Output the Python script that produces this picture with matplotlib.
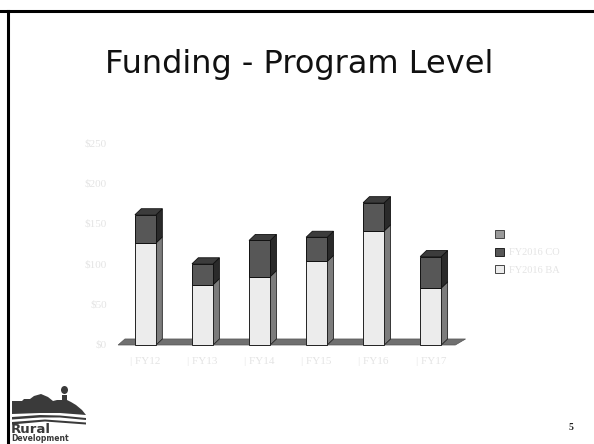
import matplotlib
matplotlib.use("Agg")
import matplotlib.pyplot as plt
from matplotlib.patches import Polygon, Patch, Ellipse
from matplotlib.lines import Line2D

# ---- data ----
categories = ["FY12", "FY13", "FY14", "FY15", "FY16", "FY17"]
base_values = [127, 75, 85, 104, 142, 71]      # light segment
top_values = [35, 26, 45, 30, 35, 39]          # dark segment
y_ticks = [0, 50, 100, 150, 200, 250]
y_tick_labels = ["$0", "$50", "$100", "$150", "$200", "$250"]
legend_labels = ["", "FY2016 CO", "FY2016 BA"]
title = "Funding - Program Level"

W, H = 594, 444
fig = plt.figure(figsize=(W / 100, H / 100), dpi=100)
fig.patch.set_facecolor("white")

def fx(px):
    return px / W

def fy(py):
    return 1 - py / H

# slide frame
fig.add_artist(Line2D([0, 1], [fy(11.5), fy(11.5)], color="black", lw=2.2, transform=fig.transFigure))
fig.add_artist(Line2D([fx(8), fx(8)], [0, fy(11.5)], color="black", lw=2.2, transform=fig.transFigure))

fig.text(fx(299), fy(73), title, ha="center", va="baseline", fontsize=23,
         family="DejaVu Sans", color="#111111")

ax = fig.add_axes([fx(120), fy(345), fx(465) - fx(120), fy(144) - fy(345)])
x0 = [i for i in range(len(categories))]
ax.set_xlim(-0.447, 5.6)
ax.set_ylim(0, 250)
ax.axis("off")

w = 0.37
dx = 0.11
dy = 7.5

floor = Polygon([(-0.48, 0), (5.43, 0), (5.43 + 0.18, dy), (-0.48 + 0.12, dy)],
                closed=True, facecolor="#707070", edgecolor="#555555", lw=0.5,
                clip_on=False, zorder=1)
ax.add_patch(floor)

for i, (b, t) in enumerate(zip(base_values, top_values)):
    xr = x0[i] + w / 2
    tot = b + t
    ax.add_patch(Polygon([(xr, 0), (xr + dx, dy), (xr + dx, b + dy), (xr, b)], closed=True,
                         facecolor="#7c7c7c", edgecolor="#222222", lw=0.6, clip_on=False, zorder=2))
    ax.add_patch(Polygon([(xr, b), (xr + dx, b + dy), (xr + dx, tot + dy), (xr, tot)], closed=True,
                         facecolor="#2a2a2a", edgecolor="#111111", lw=0.6, clip_on=False, zorder=2))
    xl = x0[i] - w / 2
    ax.add_patch(Polygon([(xl, tot), (xr, tot), (xr + dx, tot + dy), (xl + dx, tot + dy)], closed=True,
                         facecolor="#3c3c3c", edgecolor="#111111", lw=0.6, clip_on=False, zorder=2))

ax.bar(x0, base_values, width=w, color="#ececec", edgecolor="#222222", lw=0.7, zorder=3, clip_on=False)
ax.bar(x0, top_values, bottom=base_values, width=w, color="#575757", edgecolor="#111111", lw=0.7,
       zorder=3, clip_on=False)

for v, lab in zip(y_ticks, y_tick_labels):
    ax.text(-0.68, v, lab, ha="right", va="center", fontsize=8, family="Liberation Serif",
            color="#e4e4e4", clip_on=False)
for i, lab in enumerate(categories):
    ax.text(x0[i], -21, "| " + lab, ha="center", va="center", fontsize=8, family="Liberation Serif",
            color="#e4e4e4", clip_on=False)

handles = [Patch(facecolor="#9a9a9a", edgecolor="#444444", lw=0.7),
           Patch(facecolor="#575757", edgecolor="#222222", lw=0.7),
           Patch(facecolor="#ececec", edgecolor="#444444", lw=0.7)]
leg = fig.legend(handles, legend_labels, loc="upper left", bbox_to_anchor=(fx(486), fy(221)),
                 bbox_transform=fig.transFigure, frameon=False,
                 handlelength=0.8, handleheight=0.8, labelspacing=0.75, handletextpad=0.5,
                 prop={"family": "Liberation Serif", "size": 7.5})
for t in leg.get_texts():
    t.set_color("#e4e4e4")

# logo (approximate silhouette); local coords = pixels from (0, 380)
logo = fig.add_axes([0, 0, fx(95), 64 / H])
logo.set_xlim(0, 95)
logo.set_ylim(64, 0)
logo.axis("off")
c = "#3a3a3a"
logo.add_patch(Polygon([(12, 34), (12, 21), (22, 21), (24, 19), (30, 19), (34, 16), (41, 14),
                        (48, 17), (53, 21), (57, 20), (62, 20), (62, 15), (67, 15), (67, 20),
                        (71, 22), (76, 25), (82, 30), (86, 35), (60, 33), (40, 33)], closed=True,
                       facecolor=c, edgecolor="none"))
logo.add_patch(Ellipse((64.5, 10), 7, 8, facecolor=c, edgecolor="none"))
logo.add_patch(Polygon([(12, 37), (40, 35), (60, 35.5), (86, 38), (86, 40), (60, 37.5), (40, 37.5),
                        (12, 39.5)], closed=True, facecolor=c, edgecolor="none"))
logo.add_patch(Polygon([(12, 42), (45, 39.5), (86, 42.5), (86, 44.5), (45, 41.5), (12, 44.5)],
                       closed=True, facecolor=c, edgecolor="none"))
logo.text(11, 52.5, "Rural", fontsize=9.5, fontweight="bold", color=c, family="DejaVu Sans",
          va="baseline", ha="left")
logo.text(11, 61.2, "Development", fontsize=5.5, fontweight="bold", color=c,
          family="DejaVu Sans", va="baseline", ha="left")

fig.text(fx(571), fy(430), "5", fontsize=7, fontweight="bold", family="Liberation Serif",
         color="#222222", ha="center", va="baseline")

fig.savefig("out.png", dpi=100, facecolor="white")
